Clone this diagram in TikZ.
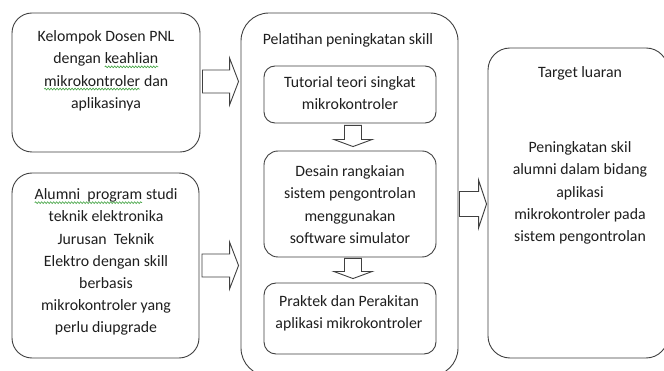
\documentclass[tikz,border=0pt]{standalone}
\usepackage{fontspec}
\setmainfont{Carlito}
\usetikzlibrary{calc,decorations.pathmorphing}
\definecolor{edge}{HTML}{404040}
\definecolor{txt}{HTML}{1E1E1E}
\definecolor{spell}{HTML}{3CA03C}
\newcommand{\sw}[1]{\tikz[baseline=(w.base)]{\node[inner sep=0pt,outer sep=0pt,anchor=base,align=left,text=txt] (w) at (0,0) {#1};
  \draw[spell, line width=0.6pt, decorate, decoration={snake,amplitude=0.9pt,segment length=3pt}] ([yshift=-3pt]w.base west) -- ([yshift=-3pt]w.base east);}}
\tikzset{
  box/.style={draw=edge, line width=0.9pt, rounded corners=#1, minimum width=0pt, minimum height=0pt, inner sep=0pt},
  lbl/.style={anchor=north, inner sep=0pt, align=center, text=txt, font=\fontsize{15.8}{22.2}\selectfont},
  blk/.style={draw=edge, line width=0.9pt, fill=white, line join=miter}
}
\newcommand{\harrow}[2]{%
  \draw[blk] let \p1=(#1), \p2=(#2) in
    (\x1,\y1+11.5pt) -- (\x2-9pt,\y1+11.5pt) -- (\x2-9pt,\y1+23.5pt) -- (\x2,\y1)
    -- (\x2-9pt,\y1-23.5pt) -- (\x2-9pt,\y1-11.5pt) -- (\x1,\y1-11.5pt) -- cycle;}
\newcommand{\varrow}[2]{%
  \draw[blk] let \p1=(#1), \p2=(#2) in
    (\x1-8.5pt,\y1) -- (\x1-8.5pt,\y2+7pt) -- (\x1-19pt,\y2+7pt) -- (\x1,\y2)
    -- (\x1+19pt,\y2+7pt) -- (\x1+8.5pt,\y2+7pt) -- (\x1+8.5pt,\y1) -- cycle;}
\begin{document}
\begin{tikzpicture}[x=1pt,y=-1pt]
\useasboundingbox[fill=white] (0,0) rectangle (664,371);
% boxes
\node[box=20pt, minimum width=188pt, minimum height=139pt] (k) at (106,82.5) {};
\node[box=20pt, minimum width=187pt, minimum height=185pt] (a) at (105.5,265.5) {};
\node[box=28pt, minimum width=217pt, minimum height=363pt] (p) at (349.5,194.5) {};
\node[box=11pt, minimum width=172pt, minimum height=57pt] (t1) at (350,94.5) {};
\node[box=14pt, minimum width=172pt, minimum height=106pt] (t2) at (350,204) {};
\node[box=12pt, minimum width=172pt, minimum height=71pt] (t3) at (350,318.5) {};
\node[box=22pt, minimum width=180pt, minimum height=310pt] (r) at (578,203) {};
% texts
\node[lbl] (kt) at (106,30.5) {Kelompok Dosen PNL\\dengan \sw{keahlian}\\\sw{mikrokontroler} dan\\aplikasinya};
\node[lbl] (at) at (106,188.5) {\sw{Alumni\ \ program} studi\\teknik elektronika\\Jurusan\ \ Teknik\\Elektro dengan skill\\berbasis\\mikrokontroler yang\\perlu diupgrade};
\node[lbl] (pt) at (348,33.5) {Pelatihan peningkatan skill};
\node[lbl] (t1t) at (350,76.5) {Tutorial teori singkat\\mikrokontroler};
\node[lbl] (t2t) at (350,165.5) {Desain rangkaian\\sistem pengontrolan\\menggunakan\\software simulator};
\node[lbl] (t3t) at (349,295.5) {Praktek dan Perakitan\\aplikasi mikrokontroler};
\node[lbl] (rt) at (580,66.5) {Target luaran};
\node[lbl] (rb) at (580,141.5) {Peningkatan skil\\alumni dalam bidang\\aplikasi\\mikrokontroler pada\\sistem pengontrolan};
% block arrows
\coordinate (a1s) at ($(k.east)+(2pt,1pt)$);
\coordinate (a1e) at ($(p.west)+(-2pt,0)$);
\harrow{a1s}{a1e}
\coordinate (a2s) at ($(a.east)+(2.5pt,0)$);
\harrow{a2s}{a1e}
\coordinate (a3s) at ($(p.east)+(1pt,0)$);
\coordinate (a3y) at ($(r.west)+(0,-1pt)$);
\coordinate (a3e) at ($(r.west)+(-1pt,0)$);
\draw[blk] let \p1=(a3s), \p2=(a3e), \p3=(a3y) in
    (\x1,\y3+12.5pt) -- (\x2-8pt,\y3+12.5pt) -- (\x2-8pt,\y3+24pt) -- (\x2,\y3)
    -- (\x2-8pt,\y3-24pt) -- (\x2-8pt,\y3-12.5pt) -- (\x1,\y3-12.5pt) -- cycle;
\coordinate (d1s) at ($(t1.south)+(3pt,-2pt)$);
\coordinate (d1e) at ($(t2.north)+(3pt,4pt)$);
\varrow{d1s}{d1e}
\coordinate (d2s) at ($(t2.south)+(3pt,-1pt)$);
\coordinate (d2e) at ($(t3.north)+(3pt,4pt)$);
\varrow{d2s}{d2e}
\end{tikzpicture}
\end{document}
